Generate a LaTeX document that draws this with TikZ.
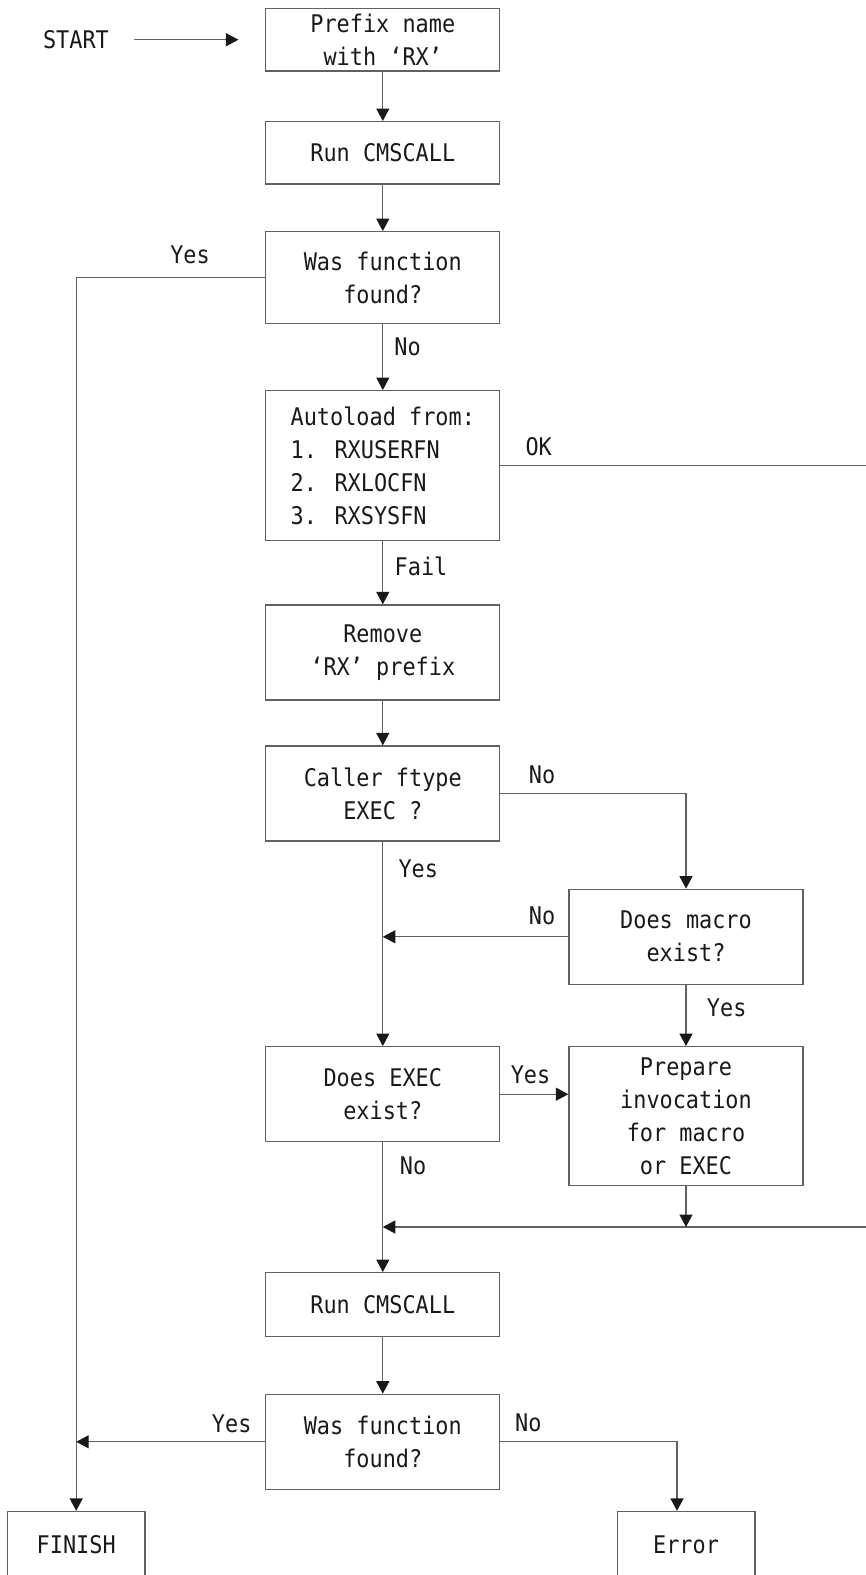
\documentclass[tikz,border=0pt]{standalone}
\usepackage{fontspec}
\usepackage{tikz}
\usetikzlibrary{arrows.meta,positioning,calc}
\newfontfamily\flowmono[FakeStretch=0.9]{DejaVu Sans Mono}

\begin{document}
\begin{tikzpicture}[
    x=1pt, y=-1pt,
    every node/.style={font=\flowmono\fontsize{24.3}{33}\selectfont, text=black!90},
    box/.style={draw=black!62, line width=1.3pt, minimum width=234pt, inner sep=0pt, align=center},
    endbox/.style={box, minimum width=137.7pt, minimum height=67pt},
    lbl/.style={inner sep=0pt},
    line/.style={draw=black!62, line width=1.3pt},
    arr/.style={line, -{Triangle[length=12.5pt,width=13pt,color=black!90]}}
]
\useasboundingbox (0,0) rectangle (866,1575);
\clip (0,0) rectangle (866,1575);

% boxes
\node[lbl] (start) at (76,39.7) {START};
\node[box, minimum height=62.7pt, text depth=-3pt] (prefix) at (382.8,39.7) {Prefix name\\with ‘RX’};
\node[box, minimum height=62.3pt] (run1) at (382.8,152.8) {Run CMSCALL};
\node[box, minimum height=91.6pt] (found1) at (382.8,277.5) {Was function\\found?};
\node[box, minimum height=150pt, align=left] (autoload) at (382.8,465.7) {Autoload from:\\1. RXUSERFN\\2. RXLOCFN\\3. RXSYSFN};
\node[box, minimum height=95pt] (remove) at (382.8,652.5) {Remove\\‘RX’ prefix};
\node[box, minimum height=95pt] (caller) at (382.8,793.5) {Caller ftype\\EXEC ?};
\node[box, minimum height=95pt] (macro) at (686,936.8) {Does macro\\exist?};
\node[box, minimum height=95pt] (execq) at (382.8,1094.2) {Does EXEC\\exist?};
\node[box, minimum height=139pt] (prepare) at (686,1116.2) {Prepare\\invocation\\for macro\\or EXEC};
\node[box, minimum height=64pt] (run2) at (382.8,1304.7) {Run CMSCALL};
\node[box, minimum height=95pt] (found2) at (382.8,1441.8) {Was function\\found?};
\node[endbox] (finish) at (76.2,1545) {FINISH};
\node[endbox] (error) at (686,1545) {Error};

\coordinate (okend) at (870,465.7);
\coordinate (merge) at (382.8,1227);
\coordinate (mergeend) at (870,1227);

% connectors
\draw[arr, shorten <=25pt, shorten >=26.7pt] (start.east) -- (prefix.west);
\draw[arr] (prefix.south) -- (run1.north);
\draw[arr] (run1.south) -- (found1.north);
\draw[arr] (found1.west) -| (finish.north);
\draw[arr] (found1.south) -- (autoload.north);
\draw[line] (autoload.east) -- (okend);
\draw[arr] (autoload.south) -- (remove.north);
\draw[arr] (remove.south) -- (caller.north);
\draw[arr] (caller.east) -| (macro.north);
\draw[arr] (caller.south) -- (execq.north);
\draw[arr] (macro.west) -- (macro.west -| caller.south);
\draw[arr] (macro.south) -- (prepare.north);
\draw[arr] (execq.east) -- (execq.east -| prepare.west);
\draw[arr] (execq.south) -- (run2.north);
\draw[arr] (mergeend) -- (merge);
\draw[arr] (prepare.south) -- (prepare.south |- merge);
\draw[arr] (run2.south) -- (found2.north);
\draw[arr] (found2.west) -- (found2.west -| finish.north);
\draw[arr] (found2.east) -| ([xshift=-9pt]error.north);

% labels
\node[lbl] at (190,255) {Yes};
\node[lbl] at (407.5,346.5) {No};
\node[lbl] at (538.7,447) {OK};
\node[lbl] at (421,566.7) {Fail};
\node[lbl] at (542,774.7) {No};
\node[lbl] at (418.3,868.7) {Yes};
\node[lbl] at (542,916) {No};
\node[lbl] at (726.7,1007.7) {Yes};
\node[lbl] at (530.5,1075) {Yes};
\node[lbl] at (413,1165.3) {No};
\node[lbl] at (231.7,1423.3) {Yes};
\node[lbl] at (528.3,1422.5) {No};
\end{tikzpicture}
\end{document}
